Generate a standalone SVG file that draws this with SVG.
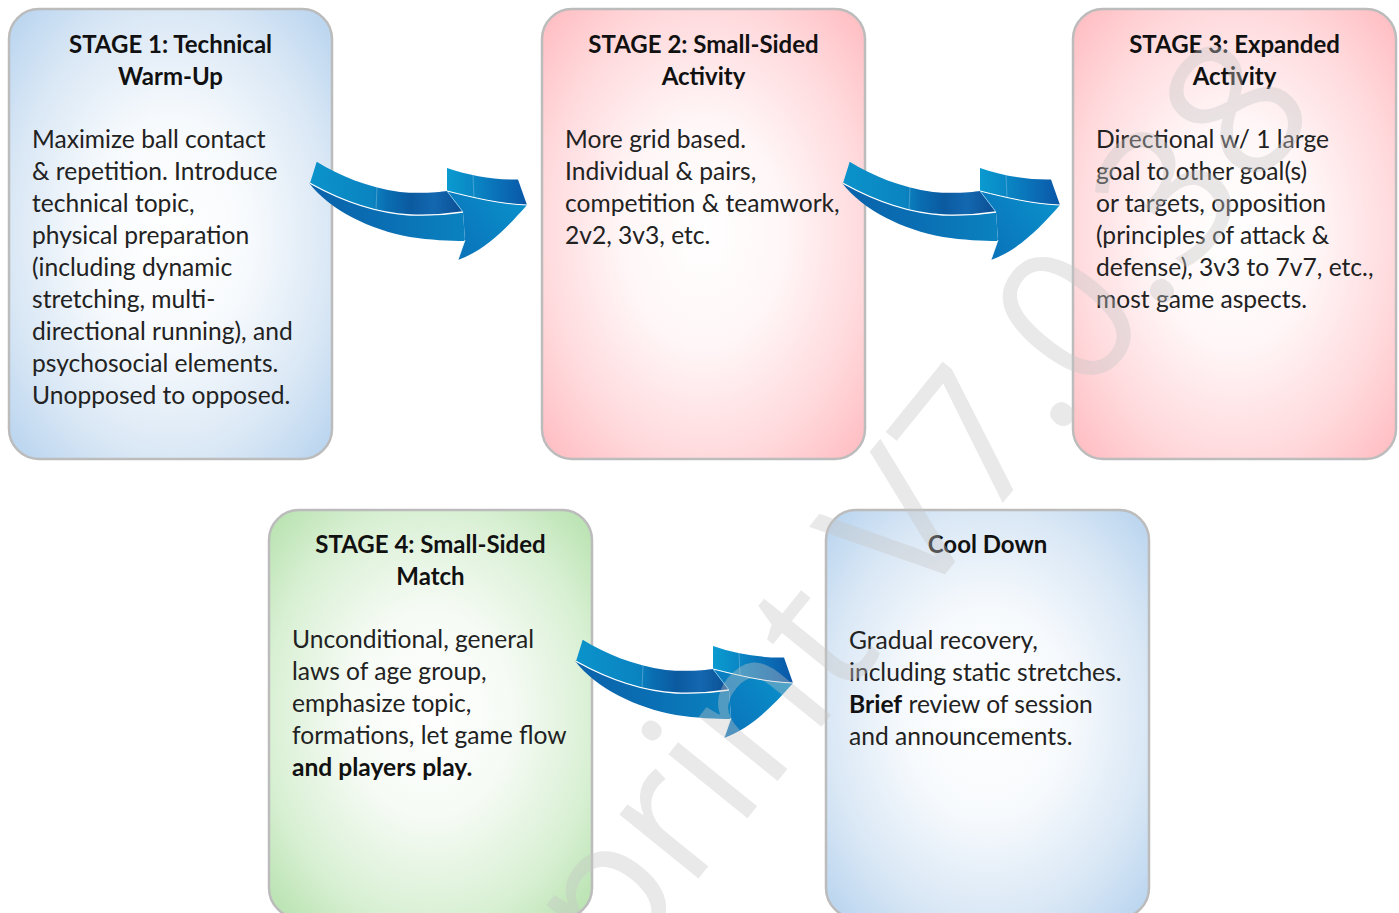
<svg xmlns="http://www.w3.org/2000/svg" xmlns:xlink="http://www.w3.org/1999/xlink" width="1399" height="913" viewBox="0 0 1399 913">
<defs>
<style>
.box{stroke:#bcbcbc;stroke-width:2.5}
.title{font-family:Lato,"Liberation Sans",sans-serif;font-weight:bold;font-size:24px;fill:#111;text-anchor:middle}
.body{font-family:Lato,"Liberation Sans",sans-serif;font-size:24.6px;fill:#222}
.b{font-weight:bold;fill:#111}
.wm{font-family:"Open Sans","DejaVu Sans",sans-serif;font-size:190px;fill:#c4c4c4;fill-opacity:0.38}
</style>
<radialGradient id="gBlue" cx="50%" cy="50%" r="72%">
<stop offset="0" stop-color="#ffffff"/><stop offset="0.35" stop-color="#f7fafd"/><stop offset="0.7" stop-color="#d9e7f5"/><stop offset="1" stop-color="#b3d1ee"/>
</radialGradient>
<radialGradient id="gPink" cx="50%" cy="50%" r="72%">
<stop offset="0" stop-color="#ffffff"/><stop offset="0.35" stop-color="#fff6f7"/><stop offset="0.7" stop-color="#ffd9dc"/><stop offset="1" stop-color="#ffb8bd"/>
</radialGradient>
<radialGradient id="gGreen" cx="50%" cy="50%" r="72%">
<stop offset="0" stop-color="#ffffff"/><stop offset="0.35" stop-color="#f6fbf5"/><stop offset="0.7" stop-color="#d9f0d4"/><stop offset="1" stop-color="#b2e0a9"/>
</radialGradient>
<linearGradient id="aTop" gradientUnits="userSpaceOnUse" x1="10" y1="0" x2="165" y2="0">
<stop offset="0" stop-color="#0b93cb"/><stop offset="0.4" stop-color="#0a84c1"/><stop offset="0.5" stop-color="#0a6db1"/><stop offset="0.65" stop-color="#0b5aa0"/><stop offset="0.8" stop-color="#1368b0"/><stop offset="1" stop-color="#0b4b90"/>
</linearGradient>
<linearGradient id="aLow" gradientUnits="userSpaceOnUse" x1="10" y1="0" x2="165" y2="0">
<stop offset="0" stop-color="#0a62aa"/><stop offset="0.5" stop-color="#0a6fb4"/><stop offset="1" stop-color="#0a82c0"/>
</linearGradient>
<linearGradient id="aHeadTop" gradientUnits="userSpaceOnUse" x1="147" y1="0" x2="227" y2="0">
<stop offset="0" stop-color="#0a9bd0"/><stop offset="0.4" stop-color="#0a82c2"/><stop offset="1" stop-color="#0a56a6"/>
</linearGradient>
<linearGradient id="aHead" gradientUnits="userSpaceOnUse" x1="220" y1="55" x2="160" y2="100">
<stop offset="0" stop-color="#0a8fca"/><stop offset="1" stop-color="#0a74ba"/>
</linearGradient>
<g id="arrow">
<path d="M9.3,33.3 C30,60 70,80 110,87 C130,90 150,91 165,91 L163,62 C150,64 135,66 110,65 C75,63 40,50 10,33.3 Z" fill="url(#aLow)"/>
<path d="M16.7,11.7 C40,26 67,37 100,42 C120,44 140,42 147,41 L163,62 C150,64 135,66 110,65 C75,63 40,50 10,33.3 Z" fill="url(#aTop)"/>
<path d="M147,41 C175,48 200,54 227,55 C205,80 185,100 158,110 L165,90 L163,62 Z" fill="url(#aHead)"/>
<path d="M147,18 C170,26 195,30 218,29.5 L227,55 C200,54 175,48 147,41 Z" fill="url(#aHeadTop)"/>
<path d="M10,33.3 C40,50 75,63 110,65 C135,66 150,64 163,62" fill="none" stroke="#fff" stroke-width="1.3"/>
<path d="M147,41 C175,48 200,54 227,55" fill="none" stroke="#fff" stroke-width="1"/>
<path d="M147,41 L163,62" fill="none" stroke="#8fd0f0" stroke-width="0.8"/>
<path d="M158,110 L165,90" fill="none" stroke="#fff" stroke-width="0.8"/>
<path d="M77,37 L76,60 M173,25 L174,47" fill="none" stroke="#fff" stroke-opacity="0.35" stroke-width="0.7"/>
</g>
</defs>
<rect width="1399" height="913" fill="#fff"/>

<g id="stage1">
<rect class="box" x="9" y="9" width="323" height="450" rx="30" fill="url(#gBlue)"/>
<text class="title" x="170.5" y="53">STAGE 1: Technical</text>
<text class="title" x="170.5" y="85">Warm-Up</text>
<text class="body" x="32"><tspan x="32" y="148">Maximize ball contact</tspan><tspan x="32" y="180">&amp; repetition. Introduce</tspan><tspan x="32" y="212">technical topic,</tspan><tspan x="32" y="244">physical preparation</tspan><tspan x="32" y="276">(including dynamic</tspan><tspan x="32" y="308">stretching, multi-</tspan><tspan x="32" y="340">directional running), and</tspan><tspan x="32" y="372">psychosocial elements.</tspan><tspan x="32" y="404">Unopposed to opposed.</tspan></text>
</g>

<g id="stage2">
<rect class="box" x="542" y="9" width="323" height="450" rx="30" fill="url(#gPink)"/>
<text class="title" x="703.5" y="53">STAGE 2: Small-Sided</text>
<text class="title" x="703.5" y="85">Activity</text>
<text class="body"><tspan x="565" y="148">More grid based.</tspan><tspan x="565" y="180">Individual &amp; pairs,</tspan><tspan x="565" y="212">competition &amp; teamwork,</tspan><tspan x="565" y="244">2v2, 3v3, etc.</tspan></text>
</g>

<g id="stage3">
<rect class="box" x="1073" y="9" width="323" height="450" rx="30" fill="url(#gPink)"/>
<text class="title" x="1234.5" y="53">STAGE 3: Expanded</text>
<text class="title" x="1234.5" y="85">Activity</text>
<text class="body"><tspan x="1096" y="148">Directional w/ 1 large</tspan><tspan x="1096" y="180">goal to other goal(s)</tspan><tspan x="1096" y="212">or targets, opposition</tspan><tspan x="1096" y="244">(principles of attack &amp;</tspan><tspan x="1096" y="276">defense), 3v3 to 7v7, etc.,</tspan><tspan x="1096" y="308">most game aspects.</tspan></text>
</g>

<g id="stage4">
<rect class="box" x="269" y="510" width="323" height="408" rx="30" fill="url(#gGreen)"/>
<text class="title" x="430.5" y="553">STAGE 4: Small-Sided</text>
<text class="title" x="430.5" y="585">Match</text>
<text class="body"><tspan x="292" y="648">Unconditional, general</tspan><tspan x="292" y="680">laws of age group,</tspan><tspan x="292" y="712">emphasize topic,</tspan><tspan x="292" y="744">formations, let game flow</tspan><tspan x="292" y="776" class="b">and players play.</tspan></text>
</g>

<g id="cooldown">
<rect class="box" x="826" y="510" width="323" height="408" rx="30" fill="url(#gBlue)"/>
<text class="title" x="987.5" y="553">Cool Down</text>
<text class="body"><tspan x="849" y="649">Gradual recovery,</tspan><tspan x="849" y="681">including static stretches.</tspan><tspan x="849" y="713"><tspan class="b">Brief</tspan> review of session</tspan><tspan x="849" y="745">and announcements.</tspan></text>
</g>

<g id="connectors">
<use xlink:href="#arrow" transform="translate(300,150)"/>
<use xlink:href="#arrow" transform="translate(833,150)"/>
<use xlink:href="#arrow" transform="translate(566,628)"/>
</g>

<g id="watermark">
<text class="wm" transform="translate(950,568) rotate(-51)" x="-532" y="0">print V7.0.38</text>
</g>
</svg>
